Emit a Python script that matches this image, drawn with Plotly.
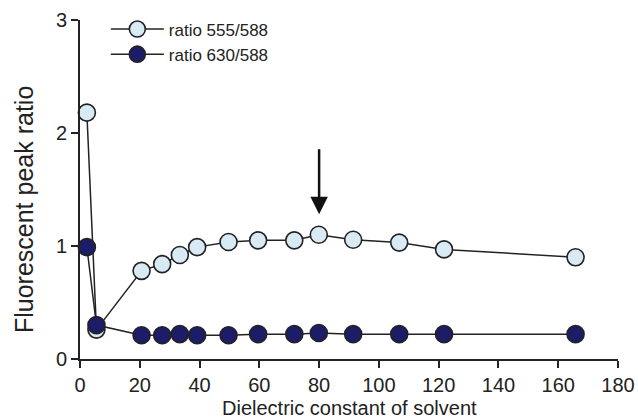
import plotly.graph_objects as go

# Data
x_light = [2.3, 5.5, 20.6, 27.5, 33.4, 39.2, 49.7, 59.6, 71.7, 79.9, 91.4, 106.8, 121.8, 165.8]
y_light = [2.18, 0.26, 0.78, 0.84, 0.92, 0.99, 1.035, 1.05, 1.05, 1.10, 1.055, 1.03, 0.97, 0.90]
x_dark = [2.3, 5.5, 20.6, 27.5, 33.4, 39.2, 49.7, 59.6, 71.7, 79.9, 91.4, 106.8, 121.8, 165.8]
y_dark = [0.99, 0.30, 0.21, 0.21, 0.22, 0.21, 0.21, 0.22, 0.22, 0.23, 0.22, 0.22, 0.22, 0.22]
x_ticks = [0, 20, 40, 60, 80, 100, 120, 140, 160, 180]
y_ticks = [0, 1, 2, 3]
arrow_x = 80
arrow_y_start = 1.87
arrow_y_end = 1.28

FONT = "Liberation Sans, Arial, sans-serif"
INK = "#222222"

fig = go.Figure()
fig.add_trace(go.Scatter(
    x=x_light, y=y_light, mode="lines+markers", name="ratio 555/588",
    line=dict(color=INK, width=1.5),
    marker=dict(size=17, color="#d8eaf4", line=dict(color=INK, width=1.6)),
    cliponaxis=False,
))
fig.add_trace(go.Scatter(
    x=x_dark, y=y_dark, mode="lines+markers", name="ratio 630/588",
    line=dict(color=INK, width=1.5),
    marker=dict(size=17, color="#1c1c68", line=dict(color=INK, width=1.6)),
    cliponaxis=False,
))

fig.add_annotation(
    x=arrow_x, y=arrow_y_end, ax=arrow_x, ay=arrow_y_start,
    xref="x", yref="y", axref="x", ayref="y",
    text="", showarrow=True, arrowhead=2, arrowsize=1.4, arrowwidth=2.5,
    arrowcolor="#111111",
)

# y-axis title
fig.add_annotation(
    text="Fluorescent peak ratio", textangle=-90,
    xref="paper", yref="paper", x=-0.104, y=0.4245,
    xanchor="center", yanchor="middle", showarrow=False,
    font=dict(family=FONT, size=25, color=INK),
)
# x-axis title
fig.add_annotation(
    text="Dielectric constant of solvent",
    xref="paper", yref="paper", x=0.5, y=-0.1396,
    xanchor="center", yanchor="middle", showarrow=False,
    font=dict(family=FONT, size=20, color=INK),
)

fig.update_layout(
    width=638, height=419,
    margin=dict(l=80, r=20, t=8, b=60),
    paper_bgcolor="white", plot_bgcolor="white",
    font=dict(family=FONT, size=20, color=INK),
    showlegend=True,
    legend=dict(
        x=0.048, y=0.99, xanchor="left", yanchor="top",
        font=dict(family=FONT, size=17, color=INK),
        bgcolor="rgba(0,0,0,0)", tracegroupgap=0, itemwidth=53,
    ),
    xaxis=dict(
        range=[0, 180], tickvals=x_ticks, ticktext=[str(v) for v in x_ticks],
        showgrid=False, zeroline=False, automargin=False,
        showline=True, linecolor=INK, linewidth=2,
        ticks="outside", ticklen=7, tickwidth=2, tickcolor=INK,
        tickfont=dict(family=FONT, size=20),
    ),
    yaxis=dict(
        range=[0, 3], tickvals=y_ticks, ticktext=[str(v) for v in y_ticks],
        domain=[0, 0.9658],
        showgrid=False, zeroline=False, automargin=False,
        showline=True, linecolor=INK, linewidth=2,
        ticks="outside", ticklen=7, tickwidth=2, tickcolor=INK,
        tickfont=dict(family=FONT, size=20),
    ),
)

fig.write_html("out.html", config={"displayModeBar": False},
               post_script="document.body.style.margin='0';")
